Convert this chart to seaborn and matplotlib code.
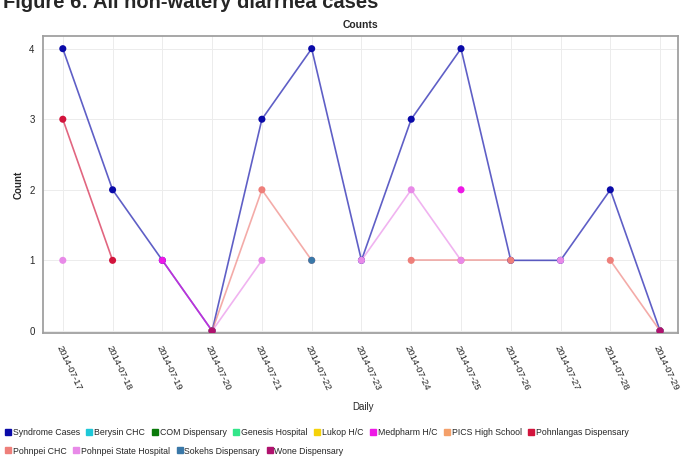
import numpy as np
import pandas as pd
import seaborn as sns
import matplotlib.pyplot as plt
from matplotlib.lines import Line2D

nan = np.nan

dates = ["2014-07-17", "2014-07-18", "2014-07-19", "2014-07-20", "2014-07-21",
         "2014-07-22", "2014-07-23", "2014-07-24", "2014-07-25", "2014-07-26",
         "2014-07-27", "2014-07-28", "2014-07-29"]

# counts per facility (gaps = no report that day)
syndrome_cases = [4, 2, 1, 0, 3, 4, 1, 3, 4, 1, 1, 2, 0]
berysin_chc = [nan, nan, nan, 0, nan, nan, nan, nan, nan, nan, nan, nan, 0]
com_dispensary = [nan, nan, nan, 0, nan, nan, nan, nan, nan, nan, nan, nan, 0]
genesis_hospital = [nan, nan, nan, 0, nan, nan, nan, nan, nan, nan, nan, nan, 0]
lukop_hc = [nan, nan, nan, 0, nan, nan, nan, nan, nan, nan, nan, nan, 0]
medpharm_hc = [nan, nan, 1, 0, nan, nan, nan, nan, 2, nan, nan, nan, 0]
pics_high_school = [nan, nan, nan, 0, nan, nan, nan, nan, nan, nan, nan, nan, 0]
pohnlangas = [3, 1, nan, 0, nan, nan, nan, nan, nan, nan, nan, nan, 0]
pohnpei_chc = [nan, nan, nan, 0, 2, 1, nan, 1, 1, 1, nan, 1, 0]
pohnpei_state_hosp = [1, nan, nan, 0, 1, nan, 1, 2, 1, nan, 1, nan, 0]
sokehs = [nan, nan, nan, 0, nan, 1, nan, nan, nan, nan, nan, nan, 0]
wone = [nan, nan, nan, 0, nan, nan, nan, nan, nan, nan, nan, nan, 0]

series_names = ["Syndrome Cases", "Berysin CHC", "COM Dispensary", "Genesis Hospital",
                "Lukop H/C", "Medpharm H/C", "PICS High School", "Pohnlangas Dispensary",
                "Pohnpei CHC", "Pohnpei State Hospital", "Sokehs Dispensary", "Wone Dispensary"]
series_values = [syndrome_cases, berysin_chc, com_dispensary, genesis_hospital, lukop_hc,
                 medpharm_hc, pics_high_school, pohnlangas, pohnpei_chc,
                 pohnpei_state_hosp, sokehs, wone]
colors = ["#0a0aa8", "#1ec8d8", "#0a7a0a", "#33e68a", "#f5d20a", "#ee18e6",
          "#f4a06a", "#d2143c", "#ee7f7a", "#e88ae8", "#3a78a8", "#b0126e"]
palette = dict(zip(series_names, colors))

# long-form table; contiguous runs get their own unit so gaps stay open
rows = []
seg = 0
for name, vals in zip(series_names, series_values):
    prev_ok = False
    for i, v in enumerate(vals):
        if np.isnan(v):
            prev_ok = False
            continue
        if not prev_ok:
            seg += 1
        rows.append({"series": name, "x": i, "count": v, "seg": seg})
        prev_ok = True
df = pd.DataFrame(rows)

sns.set_style("white")
plt.rcParams["font.family"] = ["Liberation Sans", "DejaVu Sans"]

fig = plt.figure(figsize=(6.81, 4.57), dpi=100)
ax = fig.add_axes([0.063, 0.2713, 0.9326, 0.65])

sns.lineplot(data=df, x="x", y="count", hue="series", units="seg", estimator=None,
             hue_order=series_names, palette=palette, sort=False, legend=False,
             linewidth=1.2, alpha=0.65, ax=ax)
sns.scatterplot(data=df, x="x", y="count", hue="series", hue_order=series_names,
                palette=palette, s=26, linewidth=0, legend=False, ax=ax, zorder=5)

ax.set_xlim(-0.4, 12.36)
ax.set_ylim(-0.03, 4.18)
ax.set_xticks(range(len(dates)))
ax.set_xticklabels(dates, rotation=-65, ha="left", rotation_mode="anchor", fontsize=6.8)
ax.set_yticks([0, 1, 2, 3, 4])
ax.tick_params(axis="y", labelsize=7, length=3, color="#999999", pad=3)
ax.tick_params(axis="x", length=4, color="#999999", pad=4)
ax.grid(True, color="#ececec", linewidth=0.7)
for sp in ax.spines.values():
    sp.set_color("#a0a0a0")
    sp.set_linewidth(1.3)

ax.set_xlabel("")
ax.set_ylabel("Count", fontsize=7, fontweight="bold", labelpad=4)
ax.set_title("Counts", fontsize=7.5, fontweight="bold", pad=6)
fig.text(0.533, 0.109, "Daily", ha="center", va="center", fontsize=7)

# page heading, clipped at the top like the source screenshot
fig.text(0.004, 0.995, "Figure 6: All non-watery diarrhea cases", ha="left",
         va="center", fontsize=14.5, fontweight="bold")

handles = [Line2D([], [], marker="s", linestyle="", color=c, markersize=5) for c in colors]
leg1 = fig.legend(handles[:8], series_names[:8], loc="center left", bbox_to_anchor=(0.0, 0.054),
                  ncol=8, frameon=False, fontsize=6.3, handletextpad=0.05,
                  columnspacing=0.6, handlelength=1.0, borderaxespad=0)
leg2 = fig.legend(handles[8:], series_names[8:], loc="center left", bbox_to_anchor=(0.0, 0.013),
                  ncol=4, frameon=False, fontsize=6.3, handletextpad=0.05,
                  columnspacing=0.6, handlelength=1.0, borderaxespad=0)

fig.savefig("out.png", dpi=100)
